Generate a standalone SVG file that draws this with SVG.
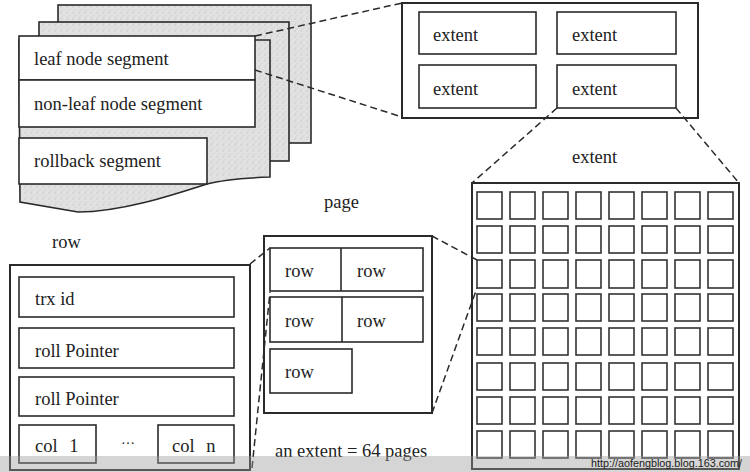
<svg xmlns="http://www.w3.org/2000/svg" width="750" height="472" viewBox="0 0 750 472">
<defs>
<pattern id="stipple" width="6" height="6" patternUnits="userSpaceOnUse">
<rect width="6" height="6" fill="#e1e1e1"/>
<circle cx="1" cy="1" r="0.7" fill="#c4c4c4"/>
<circle cx="4" cy="3.5" r="0.6" fill="#cfcfcf"/>
<circle cx="2" cy="5" r="0.5" fill="#bdbdbd"/>
</pattern>
</defs>
<style>
.box{fill:#fff;stroke:#2a2a2a;stroke-width:1.6}
.outer{fill:#fff;stroke:#2a2a2a;stroke-width:2}
.sheet{fill:url(#stipple);stroke:#2a2a2a;stroke-width:1.6}
.cell{fill:#fff;stroke:#333;stroke-width:1.6}
.t{font-family:"Liberation Serif","Times New Roman",serif;font-size:18.5px;fill:#222}
.dash{fill:none;stroke:#2a2a2a;stroke-width:1.5;stroke-dasharray:7 4}
</style>
<rect width="750" height="472" fill="#fff"/>

<g id="segments">
<rect class="sheet" x="58" y="5" width="253" height="138"/>
<rect class="sheet" x="39" y="22" width="250" height="139"/>
<path class="sheet" d="M19,40 L270,40 L270,177 C245,178 222,180 207,184 C170,196 120,212 78,212 L20,202 Z"/>
<rect class="box" x="19" y="36" width="236" height="44"/>
<text class="t" x="34" y="65">leaf node segment</text>
<rect class="box" x="19" y="80" width="236" height="47"/>
<text class="t" x="34" y="110">non-leaf node segment</text>
<rect class="box" x="19" y="138" width="188" height="46"/>
<text class="t" x="34" y="167">rollback segment</text>
</g>

<g id="extents">
<rect class="outer" x="402" y="3" width="296" height="115"/>
<rect class="box" x="419" y="12" width="117" height="42"/>
<text class="t" x="433" y="41">extent</text>
<rect class="box" x="557" y="12" width="119" height="42"/>
<text class="t" x="572" y="41">extent</text>
<rect class="box" x="419" y="65" width="117" height="43"/>
<text class="t" x="433" y="95">extent</text>
<rect class="box" x="557" y="65" width="119" height="43"/>
<text class="t" x="572" y="95">extent</text>
</g>

<g id="extent-pages">
<text class="t" x="572" y="163">extent</text>
<rect class="outer" x="472" y="183" width="267" height="286"/>
<g id="cells">
<rect class="cell" x="477" y="192" width="25" height="27"/><rect class="cell" x="510" y="192" width="25" height="27"/><rect class="cell" x="543" y="192" width="25" height="27"/><rect class="cell" x="576" y="192" width="25" height="27"/><rect class="cell" x="609" y="192" width="25" height="27"/><rect class="cell" x="642" y="192" width="25" height="27"/><rect class="cell" x="675" y="192" width="25" height="27"/><rect class="cell" x="708" y="192" width="25" height="27"/>
<rect class="cell" x="477" y="226" width="25" height="27"/><rect class="cell" x="510" y="226" width="25" height="27"/><rect class="cell" x="543" y="226" width="25" height="27"/><rect class="cell" x="576" y="226" width="25" height="27"/><rect class="cell" x="609" y="226" width="25" height="27"/><rect class="cell" x="642" y="226" width="25" height="27"/><rect class="cell" x="675" y="226" width="25" height="27"/><rect class="cell" x="708" y="226" width="25" height="27"/>
<rect class="cell" x="477" y="260" width="25" height="28"/><rect class="cell" x="510" y="260" width="25" height="28"/><rect class="cell" x="543" y="260" width="25" height="28"/><rect class="cell" x="576" y="260" width="25" height="28"/><rect class="cell" x="609" y="260" width="25" height="28"/><rect class="cell" x="642" y="260" width="25" height="28"/><rect class="cell" x="675" y="260" width="25" height="28"/><rect class="cell" x="708" y="260" width="25" height="28"/>
<rect class="cell" x="477" y="294" width="25" height="27"/><rect class="cell" x="510" y="294" width="25" height="27"/><rect class="cell" x="543" y="294" width="25" height="27"/><rect class="cell" x="576" y="294" width="25" height="27"/><rect class="cell" x="609" y="294" width="25" height="27"/><rect class="cell" x="642" y="294" width="25" height="27"/><rect class="cell" x="675" y="294" width="25" height="27"/><rect class="cell" x="708" y="294" width="25" height="27"/>
<rect class="cell" x="477" y="328" width="25" height="27"/><rect class="cell" x="510" y="328" width="25" height="27"/><rect class="cell" x="543" y="328" width="25" height="27"/><rect class="cell" x="576" y="328" width="25" height="27"/><rect class="cell" x="609" y="328" width="25" height="27"/><rect class="cell" x="642" y="328" width="25" height="27"/><rect class="cell" x="675" y="328" width="25" height="27"/><rect class="cell" x="708" y="328" width="25" height="27"/>
<rect class="cell" x="477" y="363" width="25" height="27"/><rect class="cell" x="510" y="363" width="25" height="27"/><rect class="cell" x="543" y="363" width="25" height="27"/><rect class="cell" x="576" y="363" width="25" height="27"/><rect class="cell" x="609" y="363" width="25" height="27"/><rect class="cell" x="642" y="363" width="25" height="27"/><rect class="cell" x="675" y="363" width="25" height="27"/><rect class="cell" x="708" y="363" width="25" height="27"/>
<rect class="cell" x="477" y="397" width="25" height="27"/><rect class="cell" x="510" y="397" width="25" height="27"/><rect class="cell" x="543" y="397" width="25" height="27"/><rect class="cell" x="576" y="397" width="25" height="27"/><rect class="cell" x="609" y="397" width="25" height="27"/><rect class="cell" x="642" y="397" width="25" height="27"/><rect class="cell" x="675" y="397" width="25" height="27"/><rect class="cell" x="708" y="397" width="25" height="27"/>
<rect class="cell" x="477" y="431" width="25" height="27"/><rect class="cell" x="510" y="431" width="25" height="27"/><rect class="cell" x="543" y="431" width="25" height="27"/><rect class="cell" x="576" y="431" width="25" height="27"/><rect class="cell" x="609" y="431" width="25" height="27"/><rect class="cell" x="642" y="431" width="25" height="27"/><rect class="cell" x="675" y="431" width="25" height="27"/><rect class="cell" x="708" y="431" width="25" height="27"/>
</g>
<text class="t" x="275" y="457">an extent = 64 pages</text>
</g>

<g id="page">
<text class="t" x="324" y="208">page</text>
<rect class="outer" x="264" y="236" width="168" height="177"/>
<rect class="box" x="270" y="248" width="153" height="43"/>
<line x1="341" y1="248" x2="341" y2="291" stroke="#2a2a2a" stroke-width="1.6"/>
<text class="t" x="285" y="277">row</text>
<text class="t" x="357" y="277">row</text>
<rect class="box" x="270" y="297" width="153" height="45"/>
<line x1="342" y1="297" x2="342" y2="342" stroke="#2a2a2a" stroke-width="1.6"/>
<text class="t" x="285" y="327">row</text>
<text class="t" x="357" y="327">row</text>
<rect class="box" x="270" y="349" width="82" height="44"/>
<text class="t" x="285" y="378">row</text>
</g>

<g id="row">
<text class="t" x="52" y="248">row</text>
<rect class="outer" x="10" y="265" width="240" height="205"/>
<rect class="box" x="19" y="277" width="215" height="40"/>
<text class="t" x="35" y="305">trx id</text>
<rect class="box" x="19" y="328" width="215" height="40"/>
<text class="t" x="35" y="357">roll Pointer</text>
<rect class="box" x="19" y="377" width="215" height="39"/>
<text class="t" x="35" y="405">roll Pointer</text>
<rect class="box" x="19" y="425" width="77" height="38"/>
<text class="t" x="35" y="452" word-spacing="7">col 1</text>
<text class="t" x="121" y="444" style="font-size:14px">…</text>
<rect class="box" x="158" y="425" width="76" height="38"/>
<text class="t" x="172" y="452" word-spacing="7">col n</text>
</g>

<g id="connectors">
<line class="dash" x1="255" y1="36" x2="402" y2="3"/>
<line class="dash" x1="255" y1="70" x2="402" y2="117"/>
<line class="dash" x1="557" y1="108" x2="472" y2="183"/>
<line class="dash" x1="676" y1="108" x2="739" y2="183"/>
<line class="dash" x1="250" y1="264" x2="270" y2="248"/>
<line class="dash" x1="252" y1="468" x2="270" y2="292"/>
<line class="dash" x1="432" y1="236" x2="477" y2="260"/>
<line class="dash" x1="432" y1="413" x2="477" y2="288"/>
</g>

<g id="watermark">
<rect x="0" y="456" width="750" height="16" fill="#9a9a9a" fill-opacity="0.42"/>
<text x="591" y="467" font-family="'Liberation Sans',Arial,sans-serif" font-size="11.5" fill="#1a1a1a" textLength="151" lengthAdjust="spacingAndGlyphs">http://aofengblog.blog.163.com/</text>
</g>
</svg>
